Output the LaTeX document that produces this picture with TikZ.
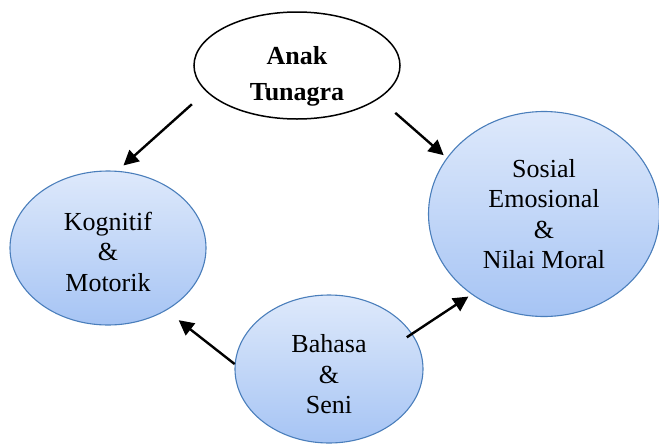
\documentclass[tikz,border=0pt]{standalone}
\usepackage{fontspec}
\setmainfont{Liberation Serif}
\usetikzlibrary{shapes.geometric,arrows.meta,calc}
\definecolor{ellTop}{HTML}{DEE9FB}
\definecolor{ellBot}{HTML}{A6C4F4}
\definecolor{ellLine}{HTML}{4A7EBB}
\tikzset{
  blueell/.style={ellipse, draw=ellLine, line width=1.1pt, top color=ellTop, bottom color=ellBot, inner sep=0pt},
  whiteell/.style={ellipse, draw=black, line width=1.5pt, fill=white, inner sep=0pt},
  lbl/.style={align=center, inner sep=0pt, font=\fontsize{26}{30.5}\selectfont},
  boldlbl/.style={align=center, inner sep=0pt, font=\fontsize{26}{35.5}\selectfont\bfseries},
  arr/.style={line width=2.4pt, -{Triangle[length=15pt,width=15pt]}}
}
\begin{document}
\begin{tikzpicture}[x=1pt,y=-1pt]
\useasboundingbox (0,0) rectangle (659,445);
\node[whiteell, minimum width=206pt, minimum height=107pt] (top) at (297,65.5) {};
\node[blueell, minimum width=196pt, minimum height=154pt] (kog) at (108,248) {};
\node[blueell, minimum width=231pt, minimum height=205pt] (sos) at (544,214) {};
\node[blueell, minimum width=188pt, minimum height=148pt] (bah) at (329,369) {};
\node[boldlbl] (topt) at ($(top.center)+(0,11)$) {Anak\\Tunagra};
\node[lbl] (kogt) at ($(kog.center)+(0,3.5)$) {Kognitif\\\&\\Motorik};
\node[lbl] (sost) at ($(sos.center)+(0,0)$) {Sosial\\Emosional\\\&\\Nilai Moral};
\node[lbl] (baht) at ($(bah.center)+(0,5.5)$) {Bahasa\\\&\\Seni};
\draw[arr, shorten <=19pt, shorten >=8pt] (top.196) -- (kog.83);
\draw[arr, shorten <=21.5pt, shorten >=4pt] (top.338) -- (sos.150);
\draw[arr, shorten >=15.7pt] (bah.177) -- (kog.313);
\draw[arr, shorten <=-6.5pt, shorten >=3.8pt] (bah.23) -- (sos.228);
\end{tikzpicture}
\end{document}
